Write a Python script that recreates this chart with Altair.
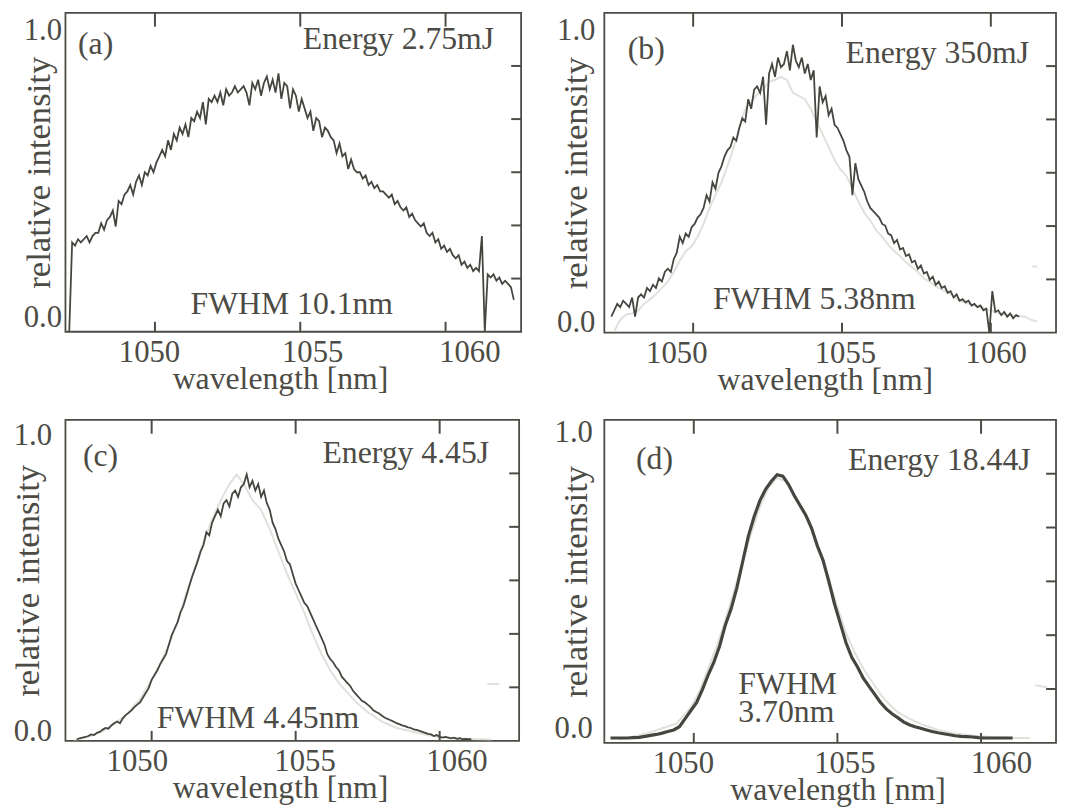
import altair as alt
import pandas as pd

FONT = "Liberation Serif"
TXT = "#4c4b45"
DARK = "#46453f"
LIGHT = "#e0e0dd"
FS_LABEL = 31
FS_TEXT = 32
FS_XTITLE = 32
FS_YTITLE = 35

# ---------------- data ----------------
X_TICKS = [1050, 1055, 1060]
Y_TICKS = [0.1667, 0.3333, 0.5, 0.6667, 0.8333]

TAGS = ["(a)", "(b)", "(c)", "(d)"]
ENERGY = ["Energy 2.75mJ", "Energy 350mJ", "Energy 4.45J", "Energy 18.44J"]
FWHM = ["FWHM 10.1nm", "FWHM 5.38nm", "FWHM 4.45nm", ["FWHM", "3.70nm"]]

# (a) dark spectrum, start 1047.05 nm, step 0.1 nm
A_START, A_STEP = 1047.05, 0.1
A_DARK = [
    0.00, 0.28, 0.27, 0.29, 0.28, 0.29, 0.30, 0.28, 0.30, 0.31,
    0.31, 0.34, 0.32, 0.35, 0.36, 0.38, 0.33, 0.41, 0.40, 0.43,
    0.44, 0.46, 0.43, 0.47, 0.49, 0.46, 0.50, 0.49, 0.52, 0.50,
    0.53, 0.55, 0.57, 0.55, 0.60, 0.57, 0.62, 0.60, 0.64, 0.62,
    0.65, 0.61, 0.67, 0.66, 0.69, 0.67, 0.72, 0.65, 0.73, 0.72,
    0.74, 0.72, 0.75, 0.71, 0.76, 0.74, 0.75, 0.77, 0.75, 0.76,
    0.77, 0.75, 0.71, 0.78, 0.76, 0.79, 0.74, 0.78, 0.80, 0.76,
    0.79, 0.75, 0.81, 0.73, 0.78, 0.77, 0.70, 0.76, 0.74, 0.69,
    0.73, 0.70, 0.67, 0.69, 0.63, 0.67, 0.66, 0.61, 0.64, 0.63,
    0.61, 0.60, 0.56, 0.59, 0.55, 0.56, 0.51, 0.54, 0.51, 0.50,
    0.50, 0.48, 0.49, 0.46, 0.47, 0.45, 0.46, 0.44, 0.44, 0.43,
    0.42, 0.43, 0.40, 0.41, 0.39, 0.38, 0.39, 0.36, 0.37, 0.35,
    0.34, 0.33, 0.34, 0.31, 0.30, 0.31, 0.28, 0.29, 0.26, 0.27,
    0.25, 0.26, 0.24, 0.23, 0.24, 0.21, 0.22, 0.20, 0.21, 0.19,
    0.20, 0.19, 0.30, 0.00, 0.18, 0.17, 0.18, 0.16, 0.17, 0.15,
    0.16, 0.15, 0.14, 0.10,
]

# (b) dark spectrum, start 1047.25 nm, step 0.1 nm
B_START, B_STEP = 1047.25, 0.1
B_DARK = [
    0.05, 0.07, 0.09, 0.08, 0.10, 0.09, 0.08, 0.11, 0.05, 0.11,
    0.12, 0.11, 0.14, 0.13, 0.15, 0.14, 0.17, 0.16, 0.19, 0.20,
    0.19, 0.23, 0.25, 0.30, 0.28, 0.31, 0.30, 0.33, 0.34, 0.36,
    0.37, 0.39, 0.43, 0.41, 0.47, 0.45, 0.50, 0.52, 0.55, 0.57,
    0.58, 0.61, 0.60, 0.64, 0.67, 0.66, 0.73, 0.70, 0.76, 0.77,
    0.75, 0.80, 0.65, 0.81, 0.84, 0.80, 0.86, 0.83, 0.84, 0.88,
    0.82, 0.90, 0.85, 0.83, 0.86, 0.81, 0.84, 0.79, 0.82, 0.61,
    0.77, 0.72, 0.74, 0.68, 0.70, 0.65, 0.64, 0.62, 0.60, 0.57,
    0.55, 0.43, 0.53, 0.48, 0.46, 0.44, 0.41, 0.39, 0.38, 0.37,
    0.36, 0.34, 0.335, 0.31, 0.305, 0.28, 0.29, 0.26, 0.265, 0.24,
    0.245, 0.22, 0.225, 0.20, 0.21, 0.185, 0.19, 0.165, 0.175, 0.15,
    0.16, 0.14, 0.145, 0.125, 0.13, 0.11, 0.12, 0.10, 0.105, 0.095,
    0.10, 0.085, 0.09, 0.08, 0.085, 0.07, 0.075, 0.0, 0.13, 0.065,
    0.07, 0.055, 0.065, 0.05, 0.06, 0.045, 0.055, 0.05,
]
# (b) light reference spectrum (segment 0 = curve, segment 1 = stray dash)
B_LIGHT_X = [1047.35, 1047.55, 1047.75, 1047.95, 1048.15, 1048.35, 1048.55, 1048.75, 1048.95, 1049.15,
             1049.35, 1049.55, 1049.75, 1049.95, 1050.15, 1050.35, 1050.55, 1050.75, 1050.95, 1051.15,
             1051.35, 1051.55, 1051.75, 1051.95, 1052.15, 1052.35, 1052.55, 1052.75, 1052.95, 1053.15,
             1053.35, 1053.55, 1053.75, 1053.95, 1054.15, 1054.35, 1054.55, 1054.75, 1054.95, 1055.15,
             1055.35, 1055.55, 1055.75, 1055.95, 1056.15, 1056.35, 1056.55, 1056.75, 1056.95, 1057.15,
             1057.35, 1057.55, 1057.75, 1057.95, 1058.15, 1058.35, 1058.55, 1058.75, 1058.95, 1059.15,
             1059.35, 1059.55, 1059.75, 1059.95, 1060.15, 1060.35, 1060.55, 1060.75, 1060.95, 1061.15,
             1061.35, 1061.55,
             1061.39, 1061.56]
B_LIGHT_Y = [0.005, 0.04, 0.057, 0.06, 0.068, 0.09, 0.105, 0.12, 0.14, 0.16,
             0.19, 0.225, 0.255, 0.27, 0.30, 0.34, 0.39, 0.43, 0.47, 0.52,
             0.575, 0.64, 0.70, 0.72, 0.745, 0.76, 0.785, 0.79, 0.80, 0.79,
             0.75, 0.74, 0.73, 0.70, 0.66, 0.62, 0.58, 0.54, 0.51, 0.49,
             0.45, 0.41, 0.375, 0.35, 0.32, 0.30, 0.275, 0.255, 0.24, 0.22,
             0.205, 0.19, 0.17, 0.16, 0.145, 0.135, 0.125, 0.115, 0.10, 0.093,
             0.088, 0.08, 0.078, 0.07, 0.065, 0.058, 0.056, 0.054, 0.052, 0.05,
             0.04, 0.035,
             0.207, 0.207]
B_LIGHT_SEG = [0] * 72 + [1, 1]

# (c) dark spectrum, start 1047.4 nm, step 0.1 nm
C_START, C_STEP = 1047.4, 0.1
C_DARK = [
    0.005, 0.008, 0.010, 0.012, 0.015, 0.020, 0.018, 0.025, 0.028, 0.035,
    0.040, 0.038, 0.048, 0.055, 0.060, 0.055, 0.070, 0.080, 0.087, 0.095,
    0.105, 0.113, 0.120, 0.135, 0.150, 0.165, 0.190, 0.205, 0.220, 0.240,
    0.255, 0.270, 0.300, 0.330, 0.350, 0.370, 0.400, 0.420, 0.450, 0.480,
    0.510, 0.535, 0.560, 0.590, 0.610, 0.650, 0.640, 0.680, 0.700, 0.720,
    0.700, 0.740, 0.750, 0.730, 0.770, 0.780, 0.760, 0.790, 0.800, 0.830,
    0.790, 0.810, 0.780, 0.800, 0.760, 0.780, 0.740, 0.720, 0.680, 0.660,
    0.630, 0.610, 0.590, 0.560, 0.550, 0.520, 0.490, 0.470, 0.450, 0.430,
    0.420, 0.400, 0.380, 0.360, 0.340, 0.320, 0.300, 0.270, 0.255, 0.245,
    0.230, 0.220, 0.200, 0.190, 0.180, 0.170, 0.155, 0.145, 0.135, 0.125,
    0.120, 0.113, 0.105, 0.095, 0.090, 0.085, 0.078, 0.072, 0.068, 0.064,
    0.060, 0.055, 0.052, 0.048, 0.046, 0.042, 0.040, 0.036, 0.034, 0.031,
    0.028, 0.025, 0.022, 0.020, 0.015, 0.018, 0.012, 0.010, 0.012, 0.010,
    0.008, 0.010, 0.006, 0.008, 0.005, 0.006, 0.005, 0.005,
]
C_LIGHT_X = [1047.3, 1047.8, 1048.3, 1048.8, 1049.2, 1049.6, 1050.0, 1050.3, 1050.6, 1050.9,
             1051.2, 1051.5, 1051.8, 1052.1, 1052.4, 1052.7, 1052.95, 1053.2, 1053.5, 1053.8,
             1054.1, 1054.4, 1054.7, 1055.0, 1055.3, 1055.6, 1055.9, 1056.2, 1056.5, 1056.8,
             1057.1, 1057.5, 1058.0, 1058.5, 1059.0, 1059.5, 1060.0, 1060.5, 1061.0, 1061.5, 1061.8,
             1061.66, 1062.07]
C_LIGHT_Y = [0.003, 0.012, 0.030, 0.058, 0.090, 0.130, 0.190, 0.240, 0.300, 0.370,
             0.460, 0.540, 0.620, 0.690, 0.750, 0.800, 0.830, 0.800, 0.750, 0.720,
             0.660, 0.590, 0.520, 0.460, 0.400, 0.330, 0.270, 0.220, 0.180, 0.150,
             0.120, 0.090, 0.060, 0.040, 0.030, 0.020, 0.012, 0.008, 0.006, 0.005, 0.004,
             0.177, 0.177]
C_LIGHT_SEG = [0] * 41 + [1, 1]

# (d) dark spectrum, start 1047.1 nm, step 0.2 nm
D_START, D_STEP = 1047.1, 0.2
D_DARK = [
    0.015, 0.015, 0.015, 0.015, 0.016, 0.017, 0.020, 0.023, 0.026, 0.030,
    0.035, 0.040, 0.050, 0.075, 0.100, 0.125, 0.165, 0.210, 0.250, 0.300,
    0.365, 0.415, 0.480, 0.560, 0.640, 0.700, 0.750, 0.785, 0.810, 0.830,
    0.826, 0.800, 0.765, 0.735, 0.705, 0.665, 0.610, 0.565, 0.500, 0.430,
    0.370, 0.310, 0.265, 0.235, 0.200, 0.175, 0.150, 0.125, 0.105, 0.090,
    0.078, 0.065, 0.056, 0.050, 0.045, 0.040, 0.035, 0.031, 0.028, 0.025,
    0.022, 0.020, 0.019, 0.018, 0.016, 0.015, 0.015, 0.015, 0.015, 0.015,
    0.015,
]
D_LIGHT_X = [1047.4, 1047.9, 1048.4, 1048.9, 1049.4, 1049.9, 1050.2, 1050.5, 1050.8, 1051.1,
             1051.4, 1051.7, 1052.0, 1052.3, 1052.6, 1052.9, 1053.2, 1053.5, 1053.8, 1054.1,
             1054.4, 1054.7, 1055.0, 1055.3, 1055.6, 1055.9, 1056.2, 1056.5, 1056.8, 1057.1,
             1057.5, 1058.0, 1058.5, 1059.0, 1059.5, 1060.0, 1060.5, 1061.0, 1061.7,
             1061.89, 1062.30]
D_LIGHT_Y = [0.010, 0.020, 0.030, 0.045, 0.060, 0.110, 0.160, 0.230, 0.300, 0.380,
             0.470, 0.560, 0.650, 0.730, 0.790, 0.820, 0.810, 0.770, 0.720, 0.660,
             0.590, 0.510, 0.420, 0.340, 0.280, 0.230, 0.190, 0.150, 0.120, 0.095,
             0.075, 0.055, 0.040, 0.030, 0.025, 0.020, 0.017, 0.015, 0.015,
             0.178, 0.172]
D_LIGHT_SEG = [0] * 39 + [1, 1]


def grid_frame(start, step, values):
    return pd.DataFrame({"wl": [start + i * step for i in range(len(values))], "v": values})


def seg_frame(xs, ys, segs):
    return pd.DataFrame({"wl": xs, "v": ys, "seg": segs})


def panel(dark, light, dom, w, h, loff, ylv, ylp, tx, ytx, dark_w, texts):
    xs = alt.Scale(domain=dom, nice=False, zero=False)
    ys = alt.Scale(domain=[0, 1], nice=False, zero=False)
    x_axis = alt.Axis(
        values=X_TICKS, format="d", ticks=False, tickSize=0, domain=False, grid=False,
        labelFont=FONT, labelFontSize=FS_LABEL, labelColor=TXT, labelBaseline="alphabetic",
        labelPadding=30, labelFlush=False, labelOverlap=False,
        labelOffset={"condition": [{"test": "datum.value == 1050", "value": loff[0]},
                                   {"test": "datum.value == 1055", "value": loff[1]}],
                     "value": loff[2]},
        title="wavelength [nm]", titleFont=FONT, titleFontSize=FS_XTITLE,
        titleFontWeight="normal", titleColor=TXT, titleX=tx, titleY=57,
        titleBaseline="alphabetic", titleAlign="center",
    )
    y_axis = alt.Axis(
        values=ylv, labelExpr="datum.value < 0.5 ? '0.0' : '1.0'", ticks=False, tickSize=0,
        domain=False, grid=False, labelFont=FONT, labelFontSize=FS_LABEL, labelColor=TXT,
        labelBaseline="alphabetic", labelPadding=ylp, labelFlush=False, labelOverlap=False,
        title="relative intensity", titleFont=FONT, titleFontSize=FS_YTITLE,
        titleFontWeight="normal", titleColor=TXT, titleX=ytx, titleBaseline="alphabetic",
    )
    layers = []
    if light is not None:
        layers.append(alt.Chart(light).mark_line(color=LIGHT, strokeWidth=2, clip=True).encode(
            x=alt.X("wl:Q", scale=xs, axis=None), y=alt.Y("v:Q", scale=ys, axis=None),
            detail="seg:N"))
    layers.append(alt.Chart(dark).mark_line(color=DARK, strokeWidth=dark_w, clip=True,
                                            strokeJoin="miter").encode(
        x=alt.X("wl:Q", scale=xs, axis=x_axis), y=alt.Y("v:Q", scale=ys, axis=y_axis)))
    xt = pd.DataFrame({"t": X_TICKS})
    yt = pd.DataFrame({"t": Y_TICKS})
    layers.append(alt.Chart(xt).mark_rule(color=TXT, strokeWidth=2).encode(
        x=alt.X("t:Q", scale=xs, axis=None), y=alt.value(0), y2=alt.value(14)))
    layers.append(alt.Chart(xt).mark_rule(color=TXT, strokeWidth=2).encode(
        x=alt.X("t:Q", scale=xs, axis=None), y=alt.value(h - 10), y2=alt.value(h)))
    layers.append(alt.Chart(yt).mark_rule(color=TXT, strokeWidth=2).encode(
        y=alt.Y("t:Q", scale=ys, axis=None), x=alt.value(w - 10), x2=alt.value(w)))
    for s, px, py, al in texts:
        layers.append(alt.Chart(pd.DataFrame({"s": [s]})).mark_text(
            font=FONT, fontSize=FS_TEXT, color=TXT, align=al, baseline="alphabetic",
            lineHeight=28.5).encode(
            x=alt.value(px), y=alt.value(py), text="s:N"))
    return alt.layer(*layers).resolve_axis(x="independent", y="independent").properties(
        width=w, height=h)


pa = panel(grid_frame(A_START, A_STEP, A_DARK), None, [1046.92, 1062.60], 460, 322,
           (-6, 12, 24), [0.016, 0.915], 4, 216.6, -15.6, 1.8,
           [(TAGS[0], 12.7, 41.5, "left"), (ENERGY[0], 432.7, 37, "right"),
            (FWHM[0], 228.5, 304, "center")])
pb = panel(grid_frame(B_START, B_STEP, B_DARK), seg_frame(B_LIGHT_X, B_LIGHT_Y, B_LIGHT_SEG),
           [1047.016, 1062.19], 456, 323, (-17, 3, 5), [0.003, 0.915], 9.5, 222.6, -18, 1.8,
           [(TAGS[1], 23.7, 47, "left"), (ENERGY[1], 428.7, 51, "right"),
            (FWHM[1], 212, 299, "center")])
pc = panel(grid_frame(C_START, C_STEP, C_DARK), seg_frame(C_LIGHT_X, C_LIGHT_Y, C_LIGHT_SEG),
           [1047.007, 1062.76], 458, 324, (-15, 9, 17), [0.0, 0.923], 14, 216.6, -27.5, 1.8,
           [(TAGS[2], 17.7, 47, "left"), (ENERGY[2], 427.7, 44, "right"),
            (FWHM[2], 194.3, 311, "center")])
pd_ = panel(grid_frame(D_START, D_STEP, D_DARK), seg_frame(D_LIGHT_X, D_LIGHT_Y, D_LIGHT_SEG),
            [1046.886, 1062.61], 456, 326, (-11, 7, 20), [0.018, 0.933], 12, 235.5, -18, 3.2,
            [(TAGS[3], 32, 50, "left"), (ENERGY[3], 430.3, 51, "right"),
             (FWHM[3], 135.3, 276.5, "left")])

chart = alt.concat(pa, pb, pc, pd_, columns=2, spacing={"row": 88, "column": 84},
                   bounds="flush", align="each").properties(
    padding={"left": 1, "top": -1, "right": 0, "bottom": 0}, background="white"
).configure_view(stroke=TXT, strokeWidth=1.8)

chart.save("out.html", embed_options={"renderer": "svg", "actions": False})
